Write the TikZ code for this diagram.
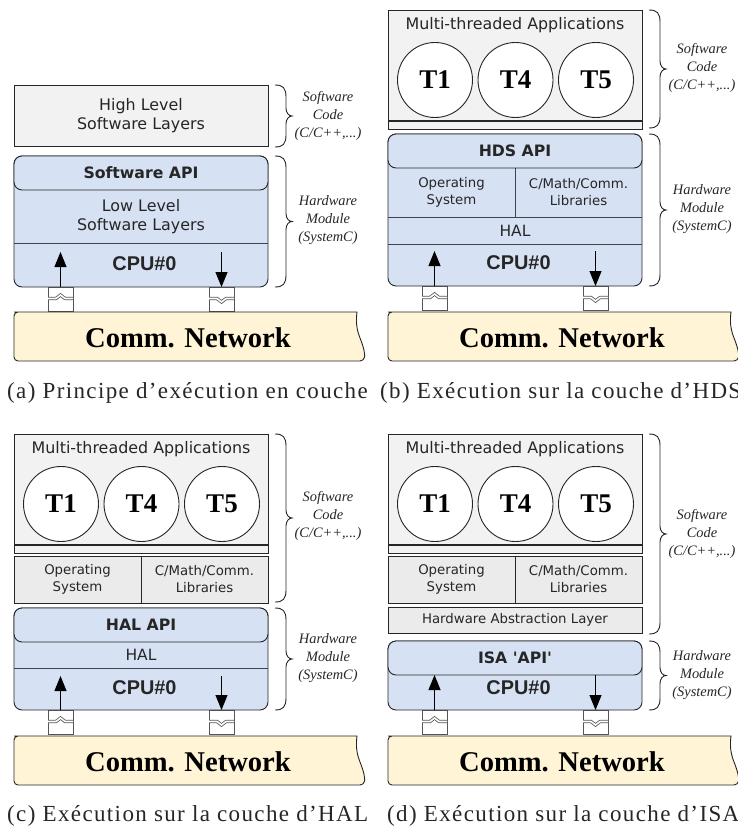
\documentclass[tikz,border=0pt]{standalone}
\usepackage{fontspec}
\usetikzlibrary{arrows.meta}
\newfontfamily\dejav{DejaVu Sans}
\newfontfamily\arialf{Liberation Sans}
\newfontfamily\timesf{Liberation Serif}
\newfontfamily\captf[LetterSpace=6]{Liberation Serif}
\definecolor{modblue}{HTML}{D6E1F3}
\definecolor{appgray}{HTML}{F2F2F2}
\definecolor{osgray}{HTML}{EBEBEB}
\definecolor{netyel}{HTML}{FFF4D6}
\definecolor{inkc}{HTML}{262626}
\definecolor{sepc}{HTML}{3C4450}
\definecolor{linkc}{HTML}{555555}
\tikzset{
  x=1pt,y=-1pt,
  base/.style={inner sep=0pt,outer sep=0pt,anchor=north west,align=center,text=inkc},
  rect/.style n args={2}{base,minimum width=#1pt,minimum height=#2pt},
  appbox/.style={draw=inkc,line width=.9pt,fill=appgray},
  osbox/.style={draw=inkc,line width=.9pt,fill=osgray},
  modbox/.style={draw=inkc,line width=.9pt,fill=modblue,rounded corners=8pt},
  txtbig/.style={font=\dejav\fontsize{15.9}{19}\selectfont},
  txtapi/.style={font=\dejav\bfseries\fontsize{15.7}{19}\selectfont},
  txtsm/.style={font=\dejav\fontsize{13.3}{17}\selectfont},
  txthal/.style={font=\dejav\fontsize{15.5}{19}\selectfont},
  txtcpu/.style={inner sep=0pt,text=inkc,font=\arialf\bfseries\fontsize{19.9}{22}\selectfont},
  txtcomm/.style={inner sep=0pt,text=black,font=\timesf\bfseries\fontsize{28.6}{32}\selectfont},
  taskc/.style={circle,draw=inkc,line width=.9pt,fill=white,minimum size=75pt,inner sep=0pt,text=black,font=\timesf\bfseries\fontsize{27}{30}\selectfont},
  side/.style={inner sep=0pt,align=center,text=inkc,font=\timesf\itshape\fontsize{14.4}{18}\selectfont},
  capt/.style={inner sep=0pt,anchor=base west,text=inkc,font=\captf\fontsize{23}{25}\selectfont},
  braceln/.style={draw=inkc,line width=.9pt},
  sepl/.style={draw=sepc,line width=.8pt},
  arr/.style={draw=black,line width=.9pt,-{Triangle[length=15pt,width=12pt]}},
  linkbx/.style={rect={25}{24},draw=linkc,line width=1pt,fill=white},
  linkln/.style={draw=linkc,line width=.8pt,double=white,double distance=1.6pt},
}
% #1 x, #2 y1, #3 y2
\newcommand{\curlyb}[3]{%
  \pgfmathsetmacro{\ymid}{(#2+#3)/2}%
  \draw[braceln] (#1,#2) .. controls (#1+8,#2) and (#1+11,#2+3) .. (#1+11,#2+12)
    -- (#1+11,\ymid-8) .. controls (#1+11,\ymid-3) and (#1+14,\ymid) .. (#1+17,\ymid)
    .. controls (#1+14,\ymid) and (#1+11,\ymid+3) .. (#1+11,\ymid+8)
    -- (#1+11,#3-12) .. controls (#1+11,#3-3) and (#1+8,#3) .. (#1,#3);}
% #1 name, #2 x, #3 y top, #4 chevron offset
\newcommand{\linkup}[4]{%
  \node[linkbx] (#1) at (#2,#3) {};
  \draw[linkln] (#2,#3+11.5) -- (#2+8,#3+11.5) -- (#2+12.5,#3+11.5+#4) -- (#2+17,#3+11.5) -- (#2+25,#3+11.5);}
% #1 name, #2 x, #3 y
\newcommand{\netw}[3]{%
  \draw[draw=inkc,line width=.9pt,fill=netyel,rounded corners=4pt]
    (#2+343,#3) -- (#2+4,#3) -- (#2,#3) -- (#2,#3+49) -- (#2+350,#3+49)
    [sharp corners] .. controls (#2+351,#3+42) and (#2+350,#3+36) .. (#2+346,#3+26)
    .. controls (#2+342,#3+16) and (#2+342,#3+8) .. (#2+343,#3) -- cycle;
  \node[txtcomm] (#1) at (#2+174,#3+26) {Comm. Network};}
% #1 prefix, #2 x, #3 y of module bottom
\newcommand{\links}[3]{%
  \linkup{#1-l}{#2+34}{#3}{-3.5}
  \linkup{#1-r}{#2+195}{#3}{3.5}}
\newcommand{\arrows}[3]{%
  \coordinate (#1-up) at (#2+46.5,#3);
  \coordinate (#1-dn) at (#2+207.5,#3);
  \draw[arr] (#1-l.north) -- (#1-up);
  \draw[arr] (#1-dn) -- (#1-r.north);}
% #1 prefix, #2 x, #3 y: application box with tasks, height 119
\newcommand{\appl}[3]{%
  \node[appbox,rect={254}{119}] (#1-app) at (#2,#3) {};
  \draw[draw=inkc,line width=1.2pt] (#2,#3+111) -- (#2+254,#3+111);
  \node[txtbig,inner sep=0pt,text=inkc] (#1-mt) at (#2+127,#3+15) {Multi-threaded Applications};
  \node[taskc] (#1-t1) at (#2+47,#3+70) {T1};
  \node[taskc] (#1-t4) at (#2+127.5,#3+70) {T4};
  \node[taskc] (#1-t5) at (#2+208,#3+70) {T5};}
% #1 prefix, #2 x, #3 y, #4 height, #5 style
\newcommand{\osl}[5]{%
  \node[#5,rect={127}{#4},txtsm] (#1-os) at (#2,#3) {Operating\\System};
  \node[#5,rect={127}{#4},txtsm] (#1-lib) at (#2+127,#3) {C/Math/Comm.\\Libraries};}
\begin{document}
\begin{tikzpicture}
\useasboundingbox (0,0) rectangle (738,829);
% ---------- (a)
\links{a}{14}{287}
\netw{a-net}{14}{312}
\node[appbox,rect={254}{61},txtbig] (a-high) at (14,85) {High Level\\Software Layers};
\node[modbox,rect={254}{131}] (a-mod) at (14,156) {};
\node[rect={254}{53},txtbig] (a-low) at (14,190) {Low Level\\Software Layers};
\draw[sepl] (a-low.south west) -- (a-low.south east);
\node[modbox,rect={254}{34},txtapi] (a-api) at (14,156) {Software API};
\node[txtcpu] (a-cpu) at (144.5,264) {CPU\#0};
\arrows{a}{14}{252}
\curlyb{275}{85}{147}
\curlyb{275}{156}{287}
\node[side] (a-sw) at (328,116) {Software\\Code\\(C/C++,...)};
\node[side] (a-hw) at (328,220) {Hardware\\Module\\(SystemC)};
\node[capt] (a-cap) at (7,398) {(a) Principe d’exécution en couche};
% ---------- (b)
\appl{b}{388}{10}
\links{b}{388}{286}
\netw{b-net}{388}{312}
\node[modbox,rect={254}{152}] (b-mod) at (388,134) {};
\osl{b}{388}{168}{49}{}
\draw[sepl] (b-os.north east) -- (b-os.south east);
\draw[sepl] (b-os.south west) -- (b-lib.south east);
\node[rect={254}{27},txthal] (b-hal) at (388,217) {HAL};
\draw[sepl] (b-hal.south west) -- (b-hal.south east);
\node[modbox,rect={254}{34},txtapi] (b-api) at (388,134) {HDS API};
\node[txtcpu] (b-cpu) at (518.5,263) {CPU\#0};
\arrows{b}{388}{251}
\curlyb{649}{10}{128}
\curlyb{649}{134}{286}
\node[side] (b-sw) at (702,68) {Software\\Code\\(C/C++,...)};
\node[side] (b-hw) at (702,209) {Hardware\\Module\\(SystemC)};
\node[capt] (b-cap) at (380,398) {(b) Exécution sur la couche d’HDS};
% ---------- (c)
\appl{c}{14}{434}
\osl{c}{14}{556}{47}{osbox}
\links{c}{14}{710}
\netw{c-net}{14}{736}
\node[modbox,rect={254}{102}] (c-mod) at (14,608) {};
\node[rect={254}{26},txthal] (c-hal) at (14,642) {HAL};
\draw[sepl] (c-hal.south west) -- (c-hal.south east);
\node[modbox,rect={254}{34},txtapi] (c-api) at (14,608) {HAL API};
\node[txtcpu] (c-cpu) at (144.5,688) {CPU\#0};
\arrows{c}{14}{676}
\curlyb{275}{434}{602}
\curlyb{275}{608}{710}
\node[side] (c-sw) at (328,516) {Software\\Code\\(C/C++,...)};
\node[side] (c-hw) at (328,658) {Hardware\\Module\\(SystemC)};
\node[capt] (c-cap) at (7,821) {(c) Exécution sur la couche d’HAL};
% ---------- (d)
\appl{d}{388}{434}
\osl{d}{388}{556}{47}{osbox}
\node[osbox,rect={254}{26},txtsm] (d-halb) at (388,607) {Hardware Abstraction Layer};
\links{d}{388}{710}
\netw{d-net}{388}{736}
\node[modbox,rect={254}{69}] (d-mod) at (388,641) {};
\node[txtcpu] (d-cpu) at (518.5,688) {CPU\#0};
\node[modbox,rect={254}{34},txtapi] (d-api) at (388,641) {ISA 'API'};
\arrows{d}{388}{675}
\curlyb{649}{434}{634}
\curlyb{649}{641}{710}
\node[side] (d-sw) at (702,534) {Software\\Code\\(C/C++,...)};
\node[side] (d-hw) at (702,675) {Hardware\\Module\\(SystemC)};
\node[capt] (d-cap) at (387,821) {(d) Exécution sur la couche d’ISA};
\end{tikzpicture}
\end{document}
